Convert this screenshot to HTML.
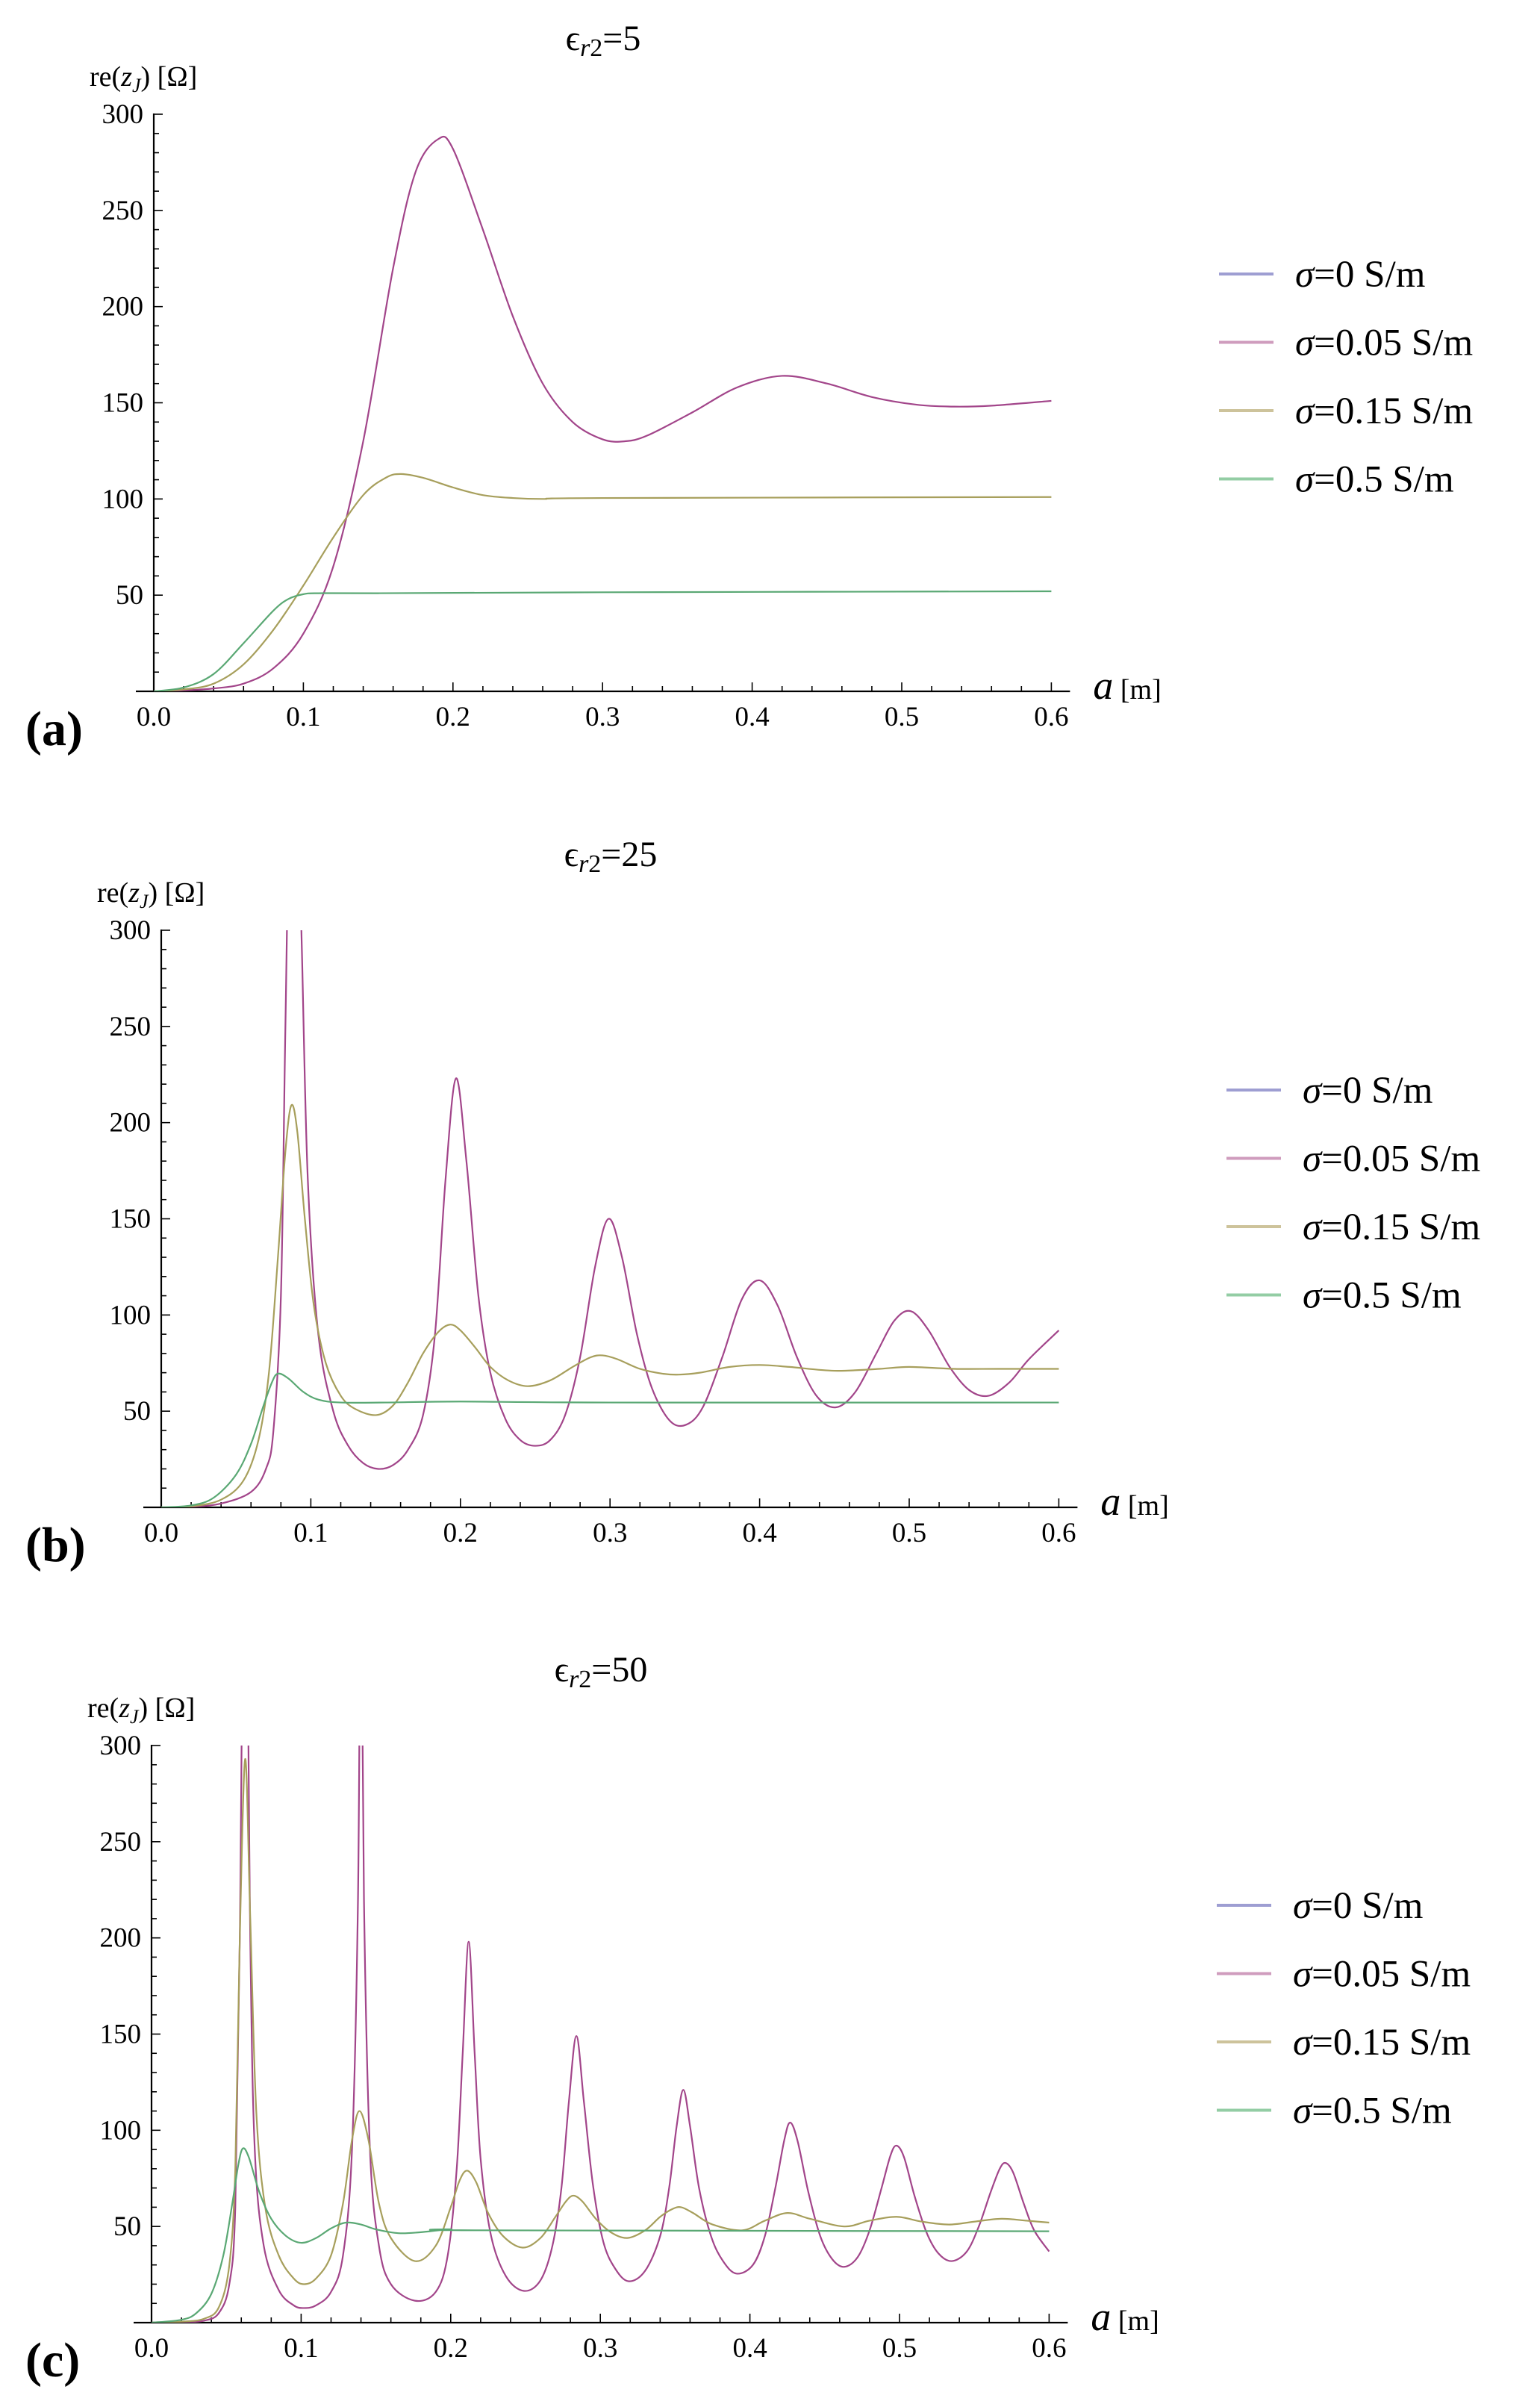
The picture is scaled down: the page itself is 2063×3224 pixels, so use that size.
<!DOCTYPE html>
<html><head><meta charset="utf-8">
<style>
html,body{margin:0;padding:0;background:#fff;}
svg{display:block;font-family:"Liberation Serif",serif;}
</style></head>
<body>
<svg id="fig" width="2063" height="3224" viewBox="0 0 2063 3224" xmlns="http://www.w3.org/2000/svg"></svg>
<script>
// ---- data (a [m], re(zJ) [Ohm]) ----
const xTicks = [0.0, 0.1, 0.2, 0.3, 0.4, 0.5, 0.6];
const xTickLabels = ["0.0","0.1","0.2","0.3","0.4","0.5","0.6"];
const yTicks = [50, 100, 150, 200, 250, 300];
const yTickLabels = ["50","100","150","200","250","300"];
const seriesNames = ["σ=0 S/m","σ=0.05 S/m","σ=0.15 S/m","σ=0.5 S/m"];
const panelTitles = ["5","25","50"];
const panelTags = ["(a)","(b)","(c)"];

const a005 = [[0,0],[0.02,0.5],[0.04,1.5],[0.06,4],[0.08,12],[0.1,30],[0.12,65],[0.14,130],[0.16,220],[0.175,270],[0.19,287],[0.2,282],[0.22,240],[0.24,195],[0.26,160],[0.28,140],[0.3,131],[0.315,130],[0.33,133],[0.36,145],[0.39,158],[0.42,164],[0.45,160],[0.48,153],[0.51,149],[0.535,148],[0.56,148.5],[0.6,151]];
const a015 = [[0,0],[0.02,1],[0.04,4],[0.06,14],[0.08,32],[0.1,55],[0.12,80],[0.14,102],[0.155,111],[0.165,113],[0.18,111],[0.2,106],[0.22,102],[0.24,100.5],[0.26,100],[0.3,100.5],[0.6,101]];
const a05 = [[0,0],[0.02,2],[0.04,9],[0.06,25],[0.08,42],[0.09,48],[0.1,50.5],[0.11,51],[0.15,51],[0.3,51.5],[0.6,52]];

const b005 = [[0,0],[0.02,0.3],[0.04,2],[0.06,8],[0.07,20],[0.075,40],[0.08,110],[0.083,250],[0.087,420],[0.091,380],[0.094,290],[0.098,170],[0.105,90],[0.115,50],[0.125,32],[0.135,23],[0.145,20],[0.155,22],[0.165,30],[0.175,48],[0.183,90],[0.19,170],[0.197,223],[0.204,180],[0.212,110],[0.22,70],[0.23,46],[0.24,35],[0.25,32],[0.26,35],[0.27,48],[0.28,78],[0.29,125],[0.299,150],[0.308,130],[0.318,90],[0.328,62],[0.34,45],[0.351,43],[0.362,52],[0.375,78],[0.388,108],[0.4,118],[0.412,105],[0.425,78],[0.438,58],[0.451,52],[0.464,60],[0.478,80],[0.49,97],[0.501,102],[0.513,92],[0.527,73],[0.54,61],[0.553,58],[0.567,65],[0.58,77],[0.6,92]];
const b015 = [[0,0],[0.02,0.5],[0.04,4],[0.055,14],[0.065,35],[0.072,70],[0.078,130],[0.083,185],[0.087,209],[0.091,195],[0.096,150],[0.102,105],[0.11,75],[0.12,58],[0.13,51],[0.144,48],[0.155,53],[0.165,65],[0.175,80],[0.185,91],[0.193,95],[0.2,92],[0.21,83],[0.22,73],[0.232,66],[0.245,63],[0.26,66],[0.275,73],[0.287,78],[0.295,79],[0.305,77],[0.32,72],[0.335,69.5],[0.346,69],[0.36,70],[0.38,73],[0.4,74],[0.42,73],[0.45,71],[0.48,72],[0.5,73],[0.53,72],[0.56,72],[0.6,72]];
const b05 = [[0,0],[0.02,1],[0.035,5],[0.05,17],[0.06,33],[0.068,52],[0.074,65],[0.078,69.5],[0.085,67],[0.095,60],[0.105,56],[0.12,54.5],[0.15,54.5],[0.2,55],[0.3,54.5],[0.6,54.5]];

const c005 = [[0,0],[0.02,0.2],[0.035,1],[0.045,5],[0.052,20],[0.056,60],[0.059,200],[0.0625,450],[0.066,200],[0.069,90],[0.075,40],[0.085,17],[0.095,9],[0.102,7.6],[0.11,9],[0.12,16],[0.128,35],[0.134,90],[0.138,220],[0.140,400],[0.142,220],[0.146,90],[0.152,40],[0.16,20],[0.176,11.4],[0.19,16],[0.198,35],[0.204,80],[0.208,140],[0.212,198],[0.216,140],[0.22,85],[0.227,45],[0.237,24],[0.249,16.5],[0.26,22],[0.268,40],[0.274,70],[0.279,115],[0.284,149],[0.289,115],[0.295,72],[0.302,42],[0.31,28],[0.319,21.5],[0.33,27],[0.34,45],[0.346,70],[0.351,102],[0.3555,121],[0.36,102],[0.366,70],[0.374,45],[0.382,32],[0.391,25.5],[0.402,30],[0.41,45],[0.417,70],[0.423,95],[0.427,104],[0.432,94],[0.439,68],[0.447,45],[0.455,33],[0.463,29],[0.472,34],[0.48,48],[0.488,70],[0.494,87],[0.498,92],[0.503,86],[0.51,66],[0.518,47],[0.526,36],[0.535,32],[0.545,37],[0.553,50],[0.561,68],[0.567,80],[0.571,83],[0.576,78],[0.583,62],[0.59,48],[0.6,37]];
const c015 = [[0,0],[0.02,0.5],[0.035,2],[0.045,8],[0.052,30],[0.056,80],[0.059,200],[0.0626,293],[0.066,210],[0.07,110],[0.076,60],[0.085,35],[0.095,23],[0.102,20],[0.11,23],[0.12,35],[0.128,62],[0.134,95],[0.139,110],[0.145,95],[0.152,62],[0.16,44],[0.176,32],[0.19,40],[0.2,60],[0.206,74],[0.211,79],[0.217,73],[0.225,57],[0.235,45],[0.248,39],[0.26,44],[0.27,55],[0.277,63],[0.282,66],[0.288,63],[0.297,54],[0.307,47],[0.318,44],[0.33,48],[0.34,55],[0.348,59],[0.354,60],[0.362,57],[0.375,51],[0.395,48],[0.41,53],[0.425,57],[0.44,54],[0.463,50],[0.48,53],[0.498,55],[0.515,52.5],[0.533,51],[0.55,52.5],[0.568,54],[0.585,53],[0.6,52]];
const c05 = [[0,0],[0.02,1.5],[0.03,5],[0.04,15],[0.048,35],[0.054,62],[0.058,82],[0.061,90.5],[0.065,86],[0.072,68],[0.08,54],[0.09,45],[0.1,41.5],[0.11,44],[0.12,49],[0.13,52],[0.14,51],[0.15,48.5],[0.165,46.5],[0.18,47],[0.2,48.5],[0.22,48],[0.6,47.5]];

// ---- layout ----
const NS = "http://www.w3.org/2000/svg";
const svg = document.getElementById("fig");
const panels = [
  {x0:206, yb:926, s:[a005,a015,a05]},
  {x0:216, yb:2019, s:[b005,b015,b05]},
  {x0:203, yb:3111, s:[c005,c015,c05]}
];
const PXPERX = 2004;      // px per metre
const PXPERY = 773/300;   // px per ohm
const curveColors = ["#a2458a","#a79f5c","#5aa874"];
const legendColors = ["#9e9ed2","#cf9cbd","#cdc39b","#93cda4"];

function mk(tag, attrs, parent){
  const e = document.createElementNS(NS, tag);
  for (const k in attrs) e.setAttribute(k, attrs[k]);
  (parent||svg).appendChild(e);
  return e;
}
function smoothPath(pts){
  let d = "M"+pts[0][0].toFixed(2)+","+pts[0][1].toFixed(2);
  for (let i=0;i<pts.length-1;i++){
    const p0=pts[Math.max(0,i-1)], p1=pts[i], p2=pts[i+1], p3=pts[Math.min(pts.length-1,i+2)];
    const c1x=p1[0]+(p2[0]-p0[0])/6, c1y=p1[1]+(p2[1]-p0[1])/6;
    const c2x=p2[0]-(p3[0]-p1[0])/6, c2y=p2[1]-(p3[1]-p1[1])/6;
    d+=" C"+c1x.toFixed(2)+","+c1y.toFixed(2)+" "+c2x.toFixed(2)+","+c2y.toFixed(2)+" "+p2[0].toFixed(2)+","+p2[1].toFixed(2);
  }
  return d;
}

panels.forEach((P, pi) => {
  const X = v => P.x0 + v*PXPERX;
  const Y = v => P.yb - v*PXPERY;
  const g = mk("g", {});
  
  

  const cp = mk("clipPath", {id:"clip"+pi}, g);
  mk("rect", {x:P.x0, y:Y(300), width:X(0.6)-P.x0+4, height:P.yb-Y(300)}, cp);

  const t = mk("text", {x:P.x0+602, y:P.yb-859, "text-anchor":"middle", "font-size":"48"}, g);
  
  
  t.innerHTML = 'ϵ<tspan font-style="italic" font-size="34" dy="8">r</tspan><tspan font-size="34">2</tspan><tspan dy="-8">=' + panelTitles[pi] + '</tspan>';

  const yl = mk("text", {x:P.x0-86, y:P.yb-811, "font-size":"38"}, g);
  
  
  yl.innerHTML = 're(<tspan font-style="italic">z</tspan><tspan font-style="italic" font-size="26" dy="8">J</tspan><tspan dy="-8">) [Ω]</tspan>';

  const tg = mk("text", {x:34, y:P.yb+72, "font-size":"66", "font-weight":"bold"}, g);
  
  
  tg.textContent = panelTags[pi];

  const ax = mk("line", {x1:P.x0-24, y1:P.yb, x2:X(0.6)+25, y2:P.yb, stroke:"#000", "stroke-width":"2.2"}, g);
  
  
  const ay = mk("line", {x1:P.x0, y1:Y(300)-1, x2:P.x0, y2:P.yb, stroke:"#000", "stroke-width":"2.2"}, g);
  
  

  for (let v=10; v<=300; v+=10){
    const major = v%50===0;
    mk("line", {x1:P.x0, y1:Y(v), x2:P.x0+(major?12:7), y2:Y(v), stroke:"#000", "stroke-width":"1.6"}, g);
  }
  yTicks.forEach((v,i)=>{
    const tl = mk("text", {x:P.x0-14, y:Y(v)+12, "text-anchor":"end", "font-size":"37"}, g);
    
    
    tl.textContent = yTickLabels[i];
  });
  for (let k=1; k<=30; k++){
    const v = k*0.02;
    const major = k%5===0;
    mk("line", {x1:X(v), y1:P.yb, x2:X(v), y2:P.yb-(major?12:7), stroke:"#000", "stroke-width":"1.6"}, g);
  }
  xTicks.forEach((v,i)=>{
    const tl = mk("text", {x:X(v), y:P.yb+46, "text-anchor":"middle", "font-size":"37"}, g);
    
    
    tl.textContent = xTickLabels[i];
  });
  const xl = mk("text", {x:X(0.6)+56, y:P.yb+10, "font-size":"38"}, g);
  
  
  xl.innerHTML = '<tspan font-style="italic" font-size="54">a</tspan> [m]';

  const sg = mk("g", {"clip-path":"url(#clip"+pi+")"}, g);
  P.s.forEach((data, si)=>{
    const pts = data.map(p=>[X(p[0]), Y(p[1])]);
    const path = mk("path", {d:smoothPath(pts), fill:"none", stroke:curveColors[si], "stroke-width":"2.2", "stroke-linejoin":"round"}, sg);
    
    
  });

  const lx = P.x0+1427, ly0 = P.yb-559;
  seriesNames.forEach((nm, li)=>{
    const lg = mk("g", {}, g);
    
    
    const y = ly0 + li*91.5;
    mk("line", {x1:lx, y1:y, x2:lx+73, y2:y, stroke:legendColors[li], "stroke-width":"4"}, lg);
    const tx = mk("text", {x:lx+102, y:y+17, "font-size":"51"}, lg);
    tx.innerHTML = '<tspan font-style="italic">σ</tspan>' + nm.slice(1);
  });
});
</script>
</body></html>
